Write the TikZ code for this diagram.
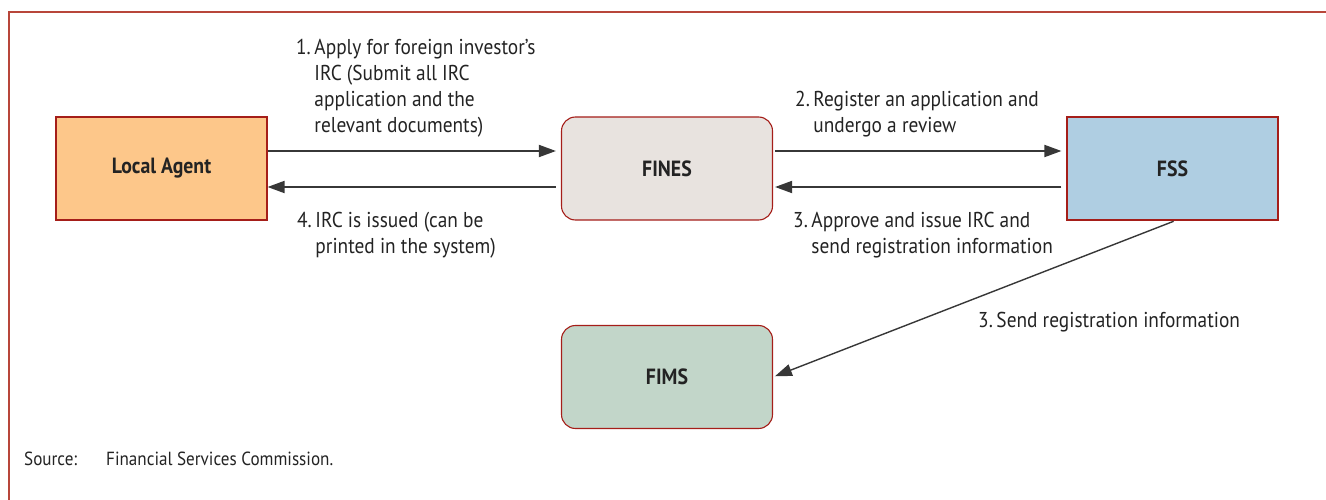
\documentclass[tikz,border=0pt]{standalone}
\usepackage{fontspec}
\setmainfont{PT Sans}[FakeStretch=0.9]
\usepackage{tikz}
\usetikzlibrary{
	arrows.meta,
	positioning
}

\definecolor{framered}{RGB}{184,70,58}
\definecolor{boxred}{RGB}{165,30,25}
\definecolor{linegray}{RGB}{55,55,55}
\definecolor{txt}{RGB}{35,35,35}
\definecolor{agentfill}{RGB}{253,199,138}
\definecolor{finesfill}{RGB}{232,227,223}
\definecolor{fssfill}{RGB}{175,206,226}
\definecolor{fimsfill}{RGB}{194,214,201}

\begin{document}
\begin{tikzpicture}[x=1pt, y=-1pt,
	box/.style={draw=boxred, line width=1.1pt, minimum width=211pt, minimum height=103pt,
		text=txt, font=\bfseries\fontsize{22}{26}\selectfont},
	rbox/.style={box, rounded corners=14pt},
	flow/.style={draw=linegray, line width=1.8pt, -{Triangle[length=17pt,width=12pt]}},
	lbl/.style={anchor=base west, inner sep=0pt, text=txt, font=\fontsize{21.5}{26}\selectfont}]
	\useasboundingbox (0,0) rectangle (1326,500);
	% frame
	\draw[framered, line width=2pt] (9,500) -- (9,12) -- (1326,12);
	% boxes
	\node[box, fill=agentfill] (agent) at (161.5,168.5) {Local Agent};
	\node[rbox, fill=finesfill] (fines) at (667,168.5) {FINES};
	\node[box, fill=fssfill] (fss) at (1172.5,168.5) {FSS};
	\node[rbox, fill=fimsfill] (fims) at (667,377) {FIMS};
	% arrows
	\draw[flow, shorten >=5pt] ([yshift=17.5pt]agent.east) -- ([yshift=17.5pt]fines.west);
	\draw[flow, shorten <=5pt] ([yshift=-18.5pt]fines.west) -- ([yshift=-18.5pt]agent.east);
	\draw[flow, shorten <=2pt, shorten >=5pt] ([yshift=17.5pt]fines.east) -- ([yshift=17.5pt]fss.west);
	\draw[flow, shorten <=5pt, shorten >=2pt] ([yshift=-18.5pt]fss.west) -- ([yshift=-18.5pt]fines.east);
	\draw[flow, line width=1.4pt, shorten <=2pt, shorten >=2pt] ([xshift=3pt]fss.south) -- (fims.east);
	% labels
	\node[lbl] (step1) at (296,55) {\begin{tabular}[t]{@{}l@{\,}l@{}}1.&Apply for foreign investor's\\ &IRC (Submit all IRC\\ &application and the\\ &relevant documents)\end{tabular}};
	\node[lbl] (step2) at (795,107) {\begin{tabular}[t]{@{}l@{\,}l@{}}2.&Register an application and\\ &undergo a review\end{tabular}};
	\node[lbl] (step3) at (793,227) {\begin{tabular}[t]{@{}l@{\,}l@{}}3.&Approve and issue IRC and\\ &send registration information\end{tabular}};
	\node[lbl] (step4) at (297,227) {\begin{tabular}[t]{@{}l@{\,}l@{}}4.&IRC is issued (can be\\ &printed in the system)\end{tabular}};
	\node[lbl] (step3b) at (978,327) {3.\,Send registration information};
	\node[lbl, font=\fontsize{19}{22}\selectfont] (src) at (24,465) {Source:};
	\node[lbl, font=\fontsize{19}{22}\selectfont] (srctext) at (106,465) {Financial Services Commission.};
\end{tikzpicture}
\end{document}
